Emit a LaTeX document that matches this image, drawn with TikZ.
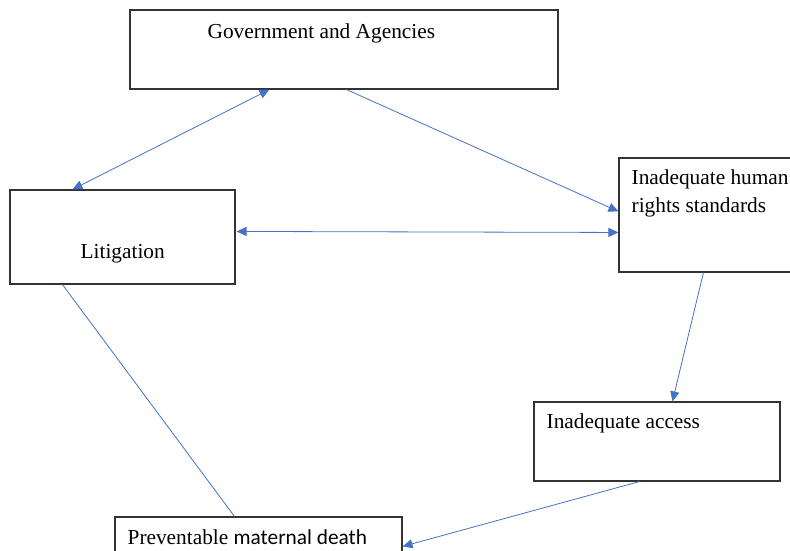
\documentclass[tikz,border=0pt]{standalone}
\usepackage{fontspec}
\setmainfont{Liberation Serif}
\newfontfamily\calibfont{Carlito}
\usepackage{xcolor}
\usetikzlibrary{arrows.meta, calc}
\definecolor{linkblue}{HTML}{4472C4}
\tikzstyle{box} = [rectangle, draw=black!80, line width=1.1pt, fill=white, inner sep=0pt]
\tikzstyle{arrow} = [linkblue, line width=0.8pt, -{Triangle[length=10pt,width=9pt]}]

\begin{document}
\begin{tikzpicture}[
    x=1pt, y=-1pt,
    caption/.style={anchor=base west, inner sep=0pt, align=left, font=\fontsize{21.33}{27.5}\selectfont},
    twoway/.style={arrow, {Triangle[length=10pt,width=9pt]}-{Triangle[length=10pt,width=9pt]}},
    link/.style={linkblue, line width=0.8pt}
]
\useasboundingbox (0,0) rectangle (790,551);

% Boxes
\node (gov) [box, minimum width=428pt, minimum height=79pt] at (344,49.5) {};
\node (lit) [box, minimum width=225pt, minimum height=94pt] at (122.5,237) {};
\node (rights) [box, minimum width=220pt, minimum height=114pt] at (729,215) {};
\node (access) [box, minimum width=246pt, minimum height=79pt] at (657,441.5) {};
\node (death) [box, minimum width=287pt, minimum height=70pt] at (258.5,552) {};

% Texts
\node (govtext) [caption] at ($(gov.north west)+(78,29)$) {Government and Agencies};
\node (littext) [caption] at ($(lit.north west)+(71,69)$) {Litigation};
\node (rightstext) [caption] at ($(rights.north west)+(13,55)$) {Inadequate human\\rights standards};
\node (accesstext) [caption] at ($(access.north west)+(13,27)$) {Inadequate access};
\node (deathtext) [caption] at ($(death.north west)+(13,28)$) {Preventable {\calibfont maternal death}};

% Connectors
\draw [twoway] ($(gov.south west)+(140,0)$) -- ($(lit.north west)+(63,0)$);
\draw [arrow] ($(gov.south west)+(217,0)$) -- ($(rights.north west)+(0,54)$);
\draw [twoway] ($(lit.north east)+(1,42)$) -- ($(rights.north west)+(0,75)$);
\draw [arrow] ($(rights.south west)+(85,0)$) -- ($(access.north west)+(139,0)$);
\draw [arrow] ($(access.south west)+(106,0)$) -- ($(death.north east)+(0,30)$);
\draw [link] ($(lit.south west)+(53,0)$) -- ($(death.north west)+(120,0)$);

\end{tikzpicture}
\end{document}
